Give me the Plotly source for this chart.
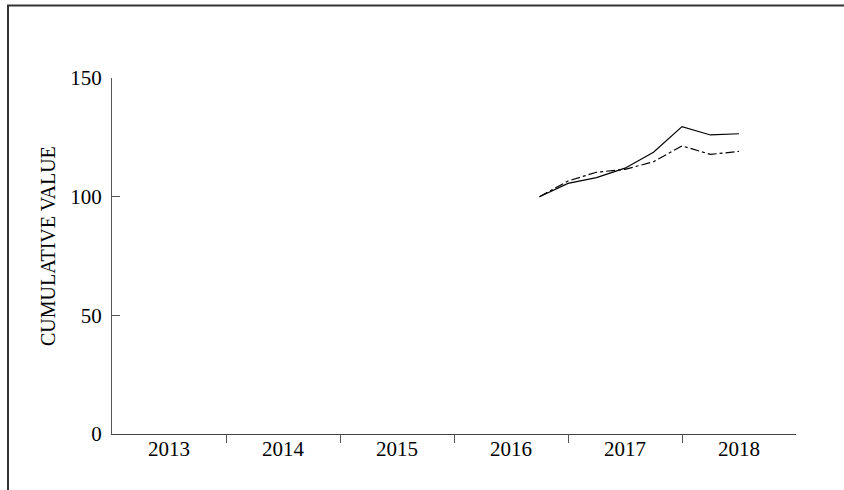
import plotly.graph_objects as go

# Quarterly observations (decimal years) and cumulative index values
periods = [2016.75, 2017.0, 2017.25, 2017.5, 2017.75, 2018.0, 2018.25, 2018.5]
series_solid = [100.0, 105.6, 108.0, 112.0, 118.7, 129.5, 126.0, 126.5]
series_dashdot = [100.0, 106.6, 110.3, 111.5, 114.7, 121.4, 117.8, 119.1]

year_labels = ["2013", "2014", "2015", "2016", "2017", "2018"]
year_centers = [2013.5, 2014.5, 2015.5, 2016.5, 2017.5, 2018.5]
year_bounds = [2014, 2015, 2016, 2017, 2018]
y_ticks = [0, 50, 100, 150]
y_title = "CUMULATIVE VALUE"

font_family = "Liberation Serif"
tick_font = dict(family=font_family, size=21, color="black")

# plot area in pixels: x 112..796, y 78..434
L, R, T, B = 112, 796, 78, 434
W, H = R - L, B - T

fig = go.Figure()
fig.add_trace(go.Scatter(
    x=periods, y=series_solid, mode="lines",
    line=dict(color="black", width=1.2), showlegend=False,
))
fig.add_trace(go.Scatter(
    x=periods, y=series_dashdot, mode="lines",
    line=dict(color="black", width=1.2, dash="dashdot"), showlegend=False,
))

fig.update_layout(
    width=844, height=490,
    margin=dict(l=L, r=844 - R, t=T, b=490 - B),
    paper_bgcolor="white", plot_bgcolor="white",
    font=dict(family=font_family, size=20, color="black"),
    xaxis=dict(
        range=[2013, 2019], showgrid=False, zeroline=False,
        showline=True, linecolor="#444", linewidth=1,
        tickvals=year_centers, ticktext=year_labels, tickfont=tick_font,
        ticks="", ticklabelstandoff=-4,
        minor=dict(tickvals=year_bounds, ticks="outside", ticklen=8,
                   tickcolor="#555", tickwidth=1, showgrid=False),
    ),
    yaxis=dict(
        range=[0, 150], showgrid=False, zeroline=False,
        showline=True, linecolor="#555", linewidth=1,
        tickvals=y_ticks, ticks="inside", ticklen=8, tickfont=tick_font,
        tickcolor="#555", tickwidth=1, ticklabelstandoff=5,
    ),
    annotations=[dict(
        text=y_title, textangle=-90, showarrow=False,
        xref="paper", yref="paper",
        x=(47.5 - L) / W, y=(B - 246.5) / H,
        xanchor="center", yanchor="middle",
        font=dict(family=font_family, size=20, color="black"),
    )],
    shapes=[dict(
        type="rect", xref="paper", yref="paper",
        x0=(8 - L) / W, x1=(860 - L) / W,
        y0=(B - 510) / H, y1=(B - 5.5) / H,
        line=dict(color="#333", width=2), fillcolor="rgba(0,0,0,0)",
        layer="below",
    )],
)

fig.write_html("out.html")
